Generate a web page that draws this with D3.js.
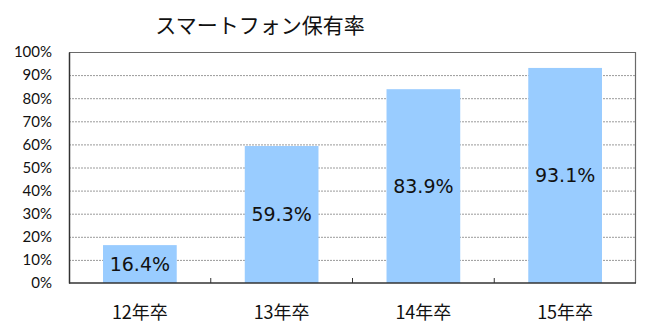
<!DOCTYPE html>
<html>
<head>
<meta charset="utf-8">
<script src="https://cdn.jsdelivr.net/npm/d3@7"></script>
<style>
  html, body { margin: 0; padding: 0; background: #fff; }
  svg { display: block; }
</style>
</head>
<body>
<svg id="chart" width="650" height="335"></svg>
<script>
(function () {
  "use strict";

  var chartTitle = "スマートフォン保有率";
  var categories = ["12年卒", "13年卒", "14年卒", "15年卒"];
  var values = [16.4, 59.3, 83.9, 93.1];
  var yTicks = [0, 10, 20, 30, 40, 50, 60, 70, 80, 90, 100];

  var margin = { top: 52, right: 14, bottom: 52, left: 69 };
  var width = 650, height = 335;
  var innerW = width - margin.left - margin.right;
  var innerH = height - margin.top - margin.bottom;

  var svg = d3.select("#chart");
  var g = svg.append("g").attr("transform", "translate(" + margin.left + "," + margin.top + ")");

  var x = d3.scaleBand().domain(categories).range([0, innerW]).paddingInner(0.48).paddingOuter(0.24);
  var y = d3.scaleLinear().domain([0, 100]).range([innerH, 0]);

  // dotted gridlines
  g.selectAll("line.grid")
    .data(yTicks.filter(function (t) { return t > 0 && t < 100; }))
    .join("line")
    .attr("class", "grid")
    .attr("x1", 0).attr("x2", innerW)
    .attr("y1", function (d) { return y(d) + 0.5; })
    .attr("y2", function (d) { return y(d) + 0.5; })
    .attr("stroke", "#9a9a9a")
    .attr("stroke-width", 1)
    .attr("stroke-dasharray", "2,1");

  // bars
  g.selectAll("rect.bar")
    .data(values)
    .join("rect")
    .attr("class", "bar")
    .attr("x", function (d, i) { return x(categories[i]); })
    .attr("y", function (d) { return y(d); })
    .attr("width", x.bandwidth())
    .attr("height", function (d) { return innerH - y(d); })
    .attr("fill", "#99ccff");

  // frame (top and right)
  g.append("path")
    .attr("d", "M0,0.5H" + (innerW - 0.5) + "V" + innerH)
    .attr("fill", "none")
    .attr("stroke", "#6a6a6a")
    .attr("stroke-width", 1.2);

  // y axis
  var yAxis = g.append("g")
    .call(d3.axisLeft(y).tickValues(yTicks).tickSize(0).tickPadding(17)
      .tickFormat(function (d) { return d + "%"; }));
  yAxis.select(".domain").attr("stroke", "#333").attr("stroke-width", 1.5);
  yAxis.selectAll("text")
    .attr("font-family", "Lato, 'Open Sans', sans-serif")
    .attr("font-size", 15)
    .attr("fill", "#111");

  // x axis with inner ticks at category boundaries
  var boundaries = categories.slice(1).map(function (c) { return x(c) - x.step() * x.paddingInner() / 2; });
  var xAxisG = g.append("g").attr("transform", "translate(0," + innerH + ")");
  xAxisG.append("line")
    .attr("x1", 0).attr("x2", innerW)
    .attr("stroke", "#333").attr("stroke-width", 1.5);
  xAxisG.selectAll("line.tick")
    .data(boundaries)
    .join("line")
    .attr("class", "tick")
    .attr("x1", function (d) { return d; }).attr("x2", function (d) { return d; })
    .attr("y1", 0).attr("y2", -5)
    .attr("stroke", "#333");
  xAxisG.selectAll("text")
    .data(categories)
    .join("text")
    .attr("x", function (d) { return x(d) + x.bandwidth() / 2; })
    .attr("y", 36)
    .attr("text-anchor", "middle")
    .attr("font-family", "'Noto Sans CJK JP', sans-serif")
    .attr("font-size", 18)
    .attr("fill", "#111")
    .text(function (d) { return d; });

  // value labels, centred in each bar
  g.selectAll("text.val")
    .data(values)
    .join("text")
    .attr("class", "val")
    .attr("x", function (d, i) { return x(categories[i]) + x.bandwidth() / 2; })
    .attr("y", function (d) { return (y(d) + innerH) / 2; })
    .attr("dy", "0.36em")
    .attr("text-anchor", "middle")
    .attr("font-family", "'DejaVu Sans', sans-serif")
    .attr("font-size", 19)
    .attr("fill", "#111")
    .text(function (d) { return d.toFixed(1) + "%"; });

  // title
  svg.append("text")
    .attr("x", 260)
    .attr("y", 33)
    .attr("text-anchor", "middle")
    .attr("font-family", "'Noto Sans CJK JP', sans-serif")
    .attr("font-size", 21)
    .attr("fill", "#111")
    .text(chartTitle);
})();
</script>
</body>
</html>
